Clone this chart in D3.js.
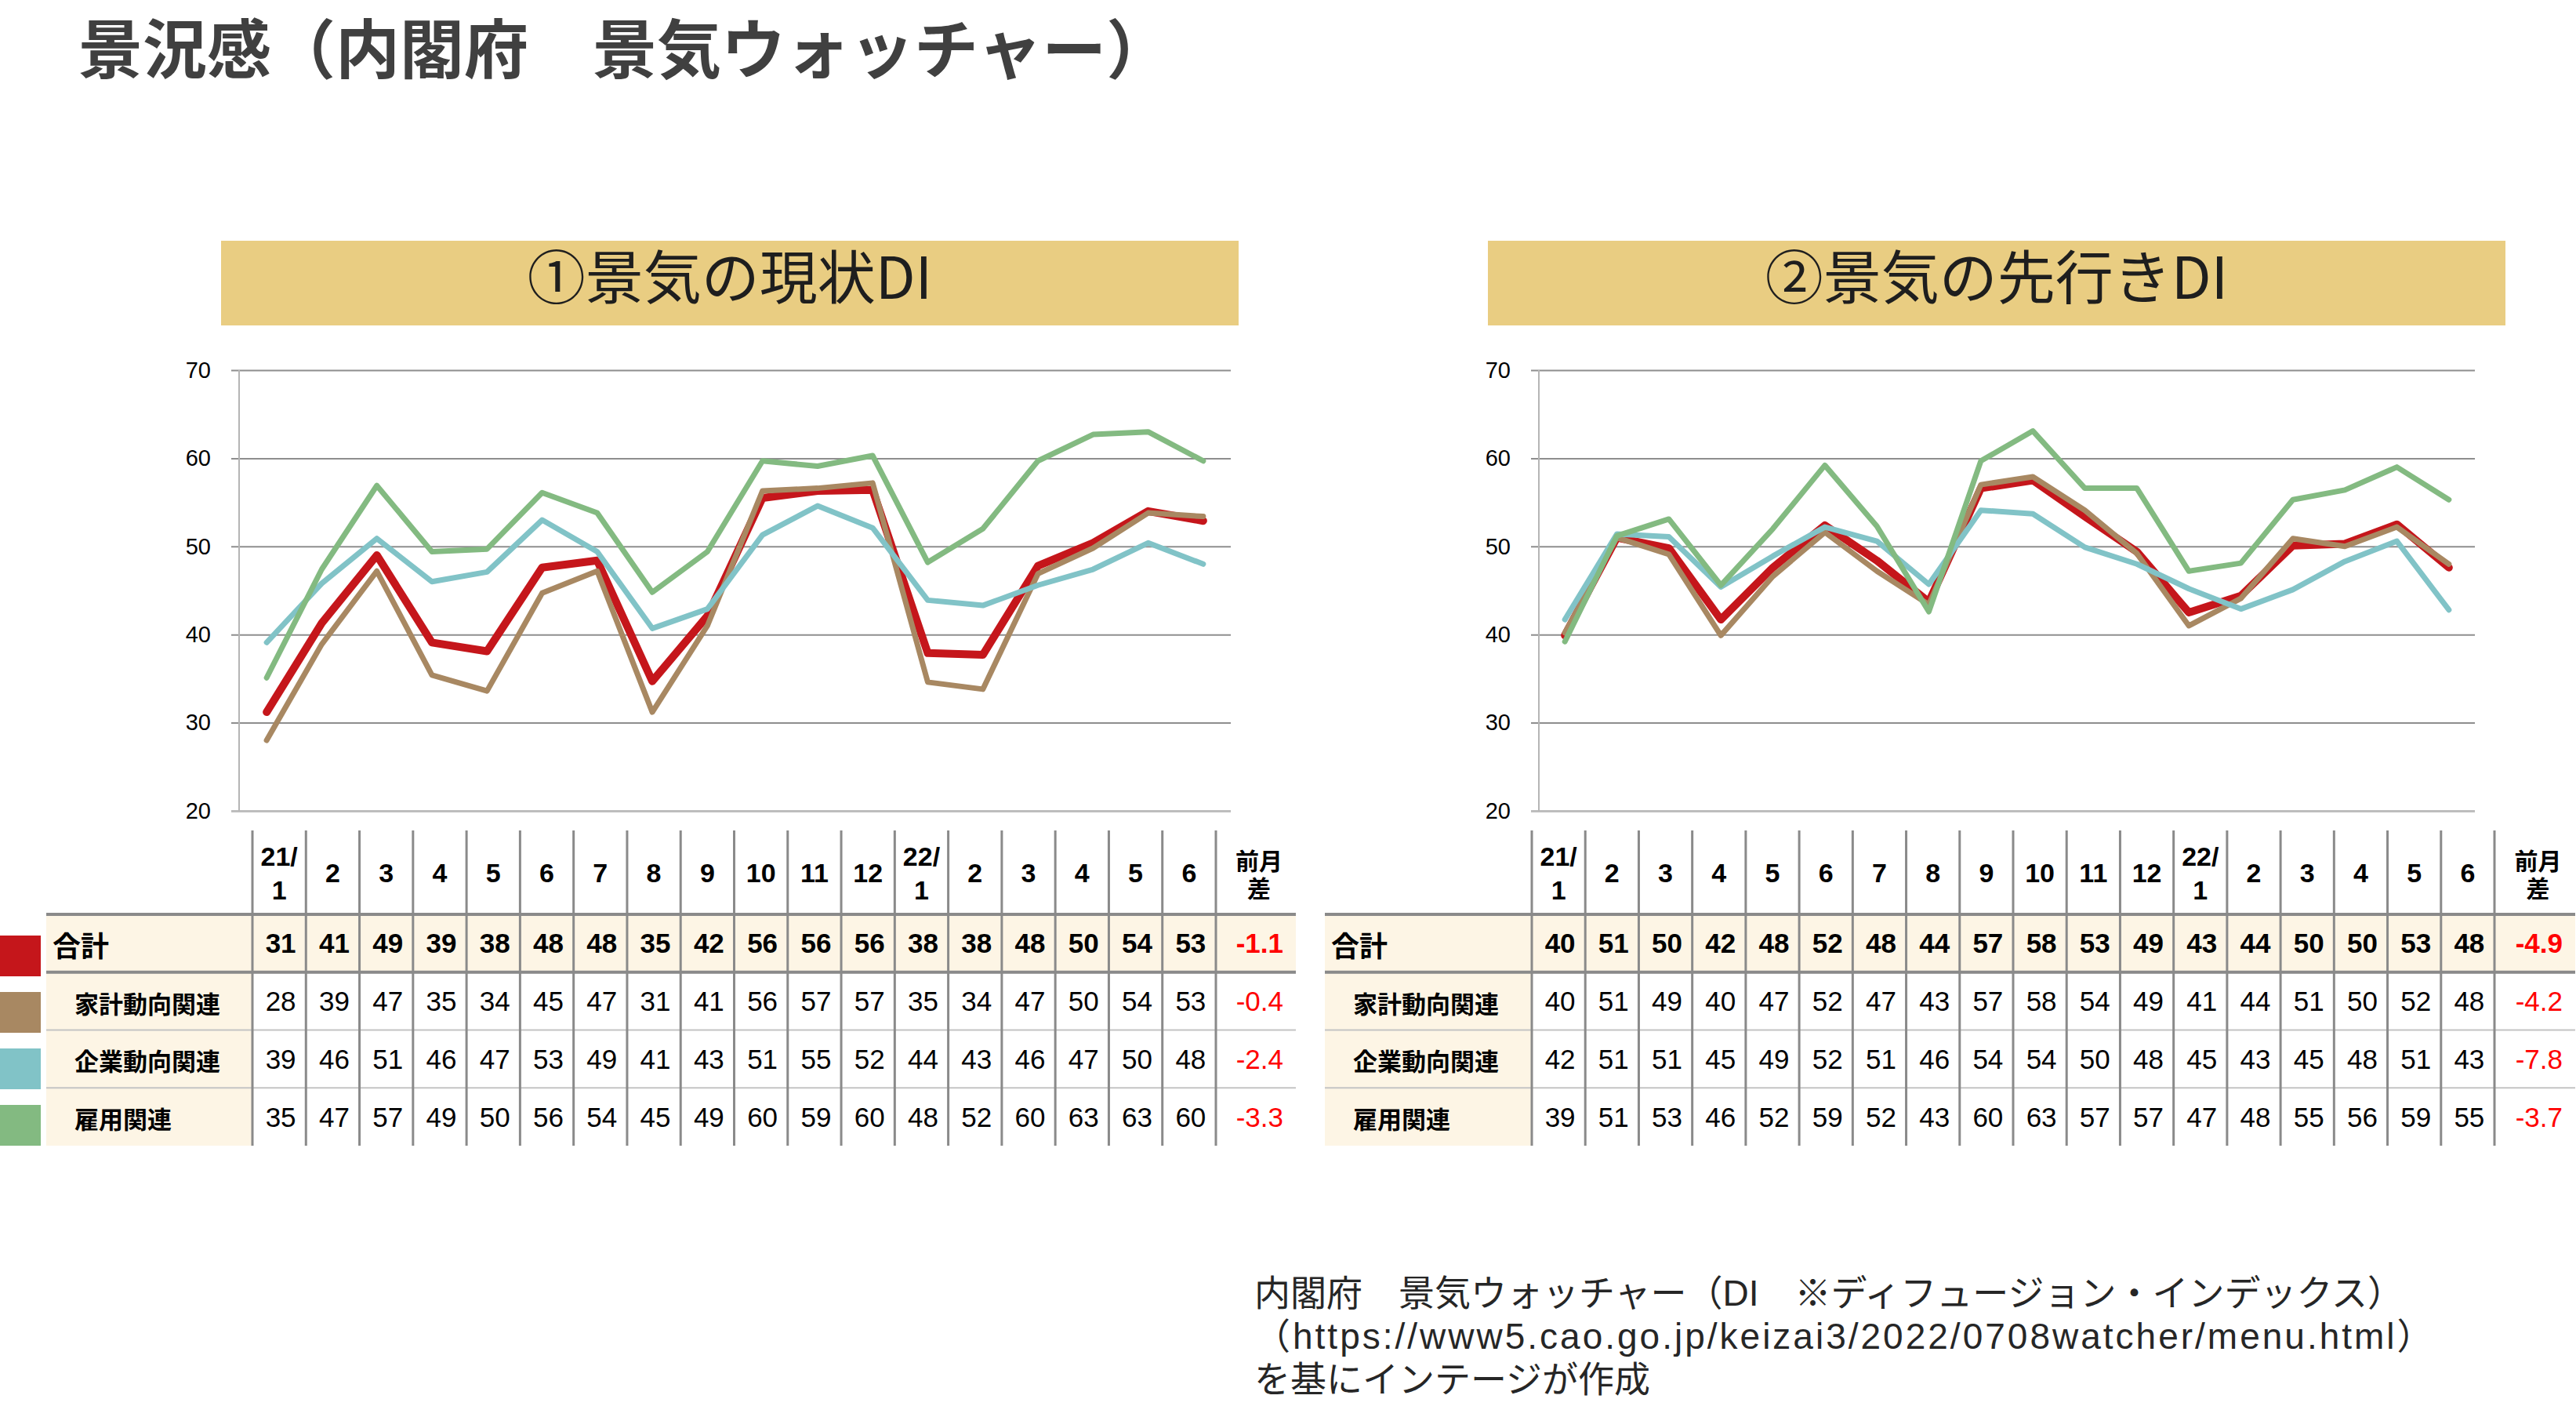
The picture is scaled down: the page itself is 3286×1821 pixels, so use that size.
<!DOCTYPE html>
<html>
<head>
<meta charset="utf-8">
<script src="https://cdn.jsdelivr.net/npm/d3@7"></script>
<style>
  body { margin: 0; background: #fff; }
  svg { display: block; }
</style>
</head>
<body>
<svg id="chart"></svg>
<script>
// months shown under the charts ("21/1" is printed on two lines)
var months = ["21/1", "2", "3", "4", "5", "6", "7", "8", "9", "10", "11", "12",
              "22/1", "2", "3", "4", "5", "6"];
var yTicks = [20, 30, 40, 50, 60, 70];
var seriesNames = ["合計", "家計動向関連", "企業動向関連", "雇用関連"];
var seriesColors = ["#C5161B", "#A88862", "#81C3C7", "#83BA81"];

// ① 現状判断DI
var nowTotal      = [31.2, 41.3, 49.0, 39.1, 38.1, 47.6, 48.4, 34.7, 42.1, 55.5, 56.3, 56.4, 37.9, 37.7, 47.8, 50.4, 54.0, 52.9];
var nowHousehold  = [28.0, 38.9, 47.2, 35.4, 33.6, 44.7, 47.2, 31.2, 41.0, 56.3, 56.6, 57.2, 34.6, 33.8, 46.9, 49.8, 53.8, 53.4];
var nowCorporate  = [39.1, 45.8, 50.9, 46.0, 47.1, 53.0, 49.4, 40.7, 42.9, 51.3, 54.6, 52.1, 43.9, 43.3, 45.6, 47.4, 50.4, 48.0];
var nowEmployment = [35.1, 47.4, 56.9, 49.4, 49.7, 56.1, 53.8, 44.8, 49.4, 59.7, 59.1, 60.3, 48.2, 52.0, 59.7, 62.7, 63.0, 59.7];

// ② 先行き判断DI
var outTotal      = [39.9, 51.0, 49.8, 41.7, 47.6, 52.4, 48.4, 43.7, 56.6, 57.5, 53.4, 49.4, 42.5, 44.4, 50.1, 50.3, 52.5, 47.6];
var outHousehold  = [40.2, 51.0, 49.1, 39.9, 46.6, 51.6, 47.2, 43.4, 57.0, 57.9, 54.1, 49.2, 41.0, 44.1, 50.9, 50.0, 52.2, 48.0];
var outCorporate  = [41.7, 51.4, 51.1, 45.4, 48.9, 52.2, 50.6, 45.7, 54.1, 53.7, 49.9, 48.0, 45.2, 42.9, 45.1, 48.3, 50.6, 42.8];
var outEmployment = [39.2, 51.2, 53.1, 45.6, 52.0, 59.2, 52.3, 42.6, 59.7, 63.1, 56.6, 56.6, 47.2, 48.1, 55.3, 56.4, 59.0, 55.3];

var W = 3286, H = 1821;
var JP = "'Noto Sans CJK JP', sans-serif";
var NUM = "'Liberation Sans', Arial, sans-serif";
// latin font first keeps the line box compact, kana/kanji fall back to Noto
var MIX = "'Liberation Sans', 'Noto Sans CJK JP', sans-serif";

var panels = [
  { title: "①景気の現状DI", data: [nowTotal, nowHousehold, nowCorporate, nowEmployment],
    band: [282, 1580], plot: [305, 1570], table: [59, 322, 1551, 1653], swatches: true },
  { title: "②景気の先行きDI", data: [outTotal, outHousehold, outCorporate, outEmployment],
    band: [1898, 3196], plot: [1963, 3157], table: [1690, 1954, 3182, 3285], swatches: false }
];

var svg = d3.select("#chart").attr("width", W).attr("height", H);

svg.append("text")
   .attr("x", 100)
   .attr("y", 93)
   .attr("font-family", MIX)
   .attr("font-weight", 700)
   .attr("font-size", 82)
   .attr("fill", "#404040")
   .text("景況感（内閣府　景気ウォッチャー）");

var y = d3.scaleLinear().domain([20, 70]).range([1034, 472]);

panels.forEach(drawPanel);

function drawPanel(p)
{
  var g = svg.append("g");

  /* title band */
  g.append("rect")
     .attr("x", p.band[0])
     .attr("y", 307)
     .attr("width", p.band[1] - p.band[0])
     .attr("height", 108)
     .attr("fill", "#E9CD82");

  g.append("text")
     .attr("x", (p.band[0] + p.band[1]) / 2)
     .attr("y", 381)
     .attr("text-anchor", "middle")
     .attr("font-family", JP)
     .attr("font-size", 74)
     .attr("fill", "#1e1e1e")
     .text(p.title);

  /* grid + y labels */
  var x = d3.scalePoint()
    .domain(d3.range(months.length))
    .range([p.plot[0], p.plot[1]])
    .padding(0.5);

  var yAxis = g.append("g")
     .attr("transform", "translate(" + (p.plot[0] - 10) + ",0)")
     .call(d3.axisLeft(y).tickValues(yTicks)
             .tickSize(-(p.plot[1] - p.plot[0] + 10))
             .tickPadding(26));
  yAxis.select(".domain").remove();
  yAxis.selectAll(".tick line")
     .attr("stroke", function(d) { return d === 20 ? "#bdbdbd" : "#8e8e8e"; })
     .attr("stroke-width", function(d) { return d === 20 ? 3 : 2; });
  yAxis.selectAll(".tick text")
     .attr("font-family", NUM)
     .attr("font-size", 29)
     .attr("fill", "#000");

  g.append("line")
     .attr("x1", p.plot[0]).attr("x2", p.plot[0])
     .attr("y1", y(70)).attr("y2", y(20))
     .attr("stroke", "#b5b5b5")
     .attr("stroke-width", 2);

  /* lines */
  var line = d3.line()
    .x(function(d, i) { return x(i); })
    .y(function(d) { return y(d); });

  p.data.forEach(function(s, k) {
    g.append("path")
       .datum(s)
       .attr("fill", "none")
       .attr("stroke", seriesColors[k])
       .attr("stroke-width", k === 0 ? 10 : 7)
       .attr("stroke-linejoin", "round")
       .attr("stroke-linecap", "round")
       .attr("d", line);
  });

  drawTable(g, p);
}


function drawTable(g, p)
{
  var left = p.table[0], labelEnd = p.table[1], colEnd = p.table[2], right = p.table[3];
  var top = 1059, headBottom = 1166, bottom = 1461;

  var col = d3.scaleBand().domain(d3.range(months.length)).range([labelEnd, colEnd]);
  var row = d3.scaleBand().domain(seriesNames).range([headBottom, bottom]);

  /* backgrounds */
  g.append("rect")
     .attr("x", left).attr("y", headBottom)
     .attr("width", labelEnd - left).attr("height", bottom - headBottom)
     .attr("fill", "#FDF5E5");
  g.append("rect")
     .attr("x", labelEnd).attr("y", headBottom)
     .attr("width", right - labelEnd).attr("height", row.bandwidth())
     .attr("fill", "#FDF5E5");

  /* header: months */
  months.forEach(function(m, i) {
    var cx = col(i) + col.bandwidth() / 2;
    var parts = m.indexOf("/") >= 0 ? [m.split("/")[0] + "/", m.split("/")[1]] : [m];
    var t = g.append("text")
       .attr("x", cx)
       .attr("y", parts.length === 1 ? 1125 : 1104)
       .attr("text-anchor", "middle")
       .attr("font-family", NUM)
       .attr("font-weight", 700)
       .attr("font-size", 34)
       .attr("fill", "#000");
    parts.forEach(function(s, j) {
      t.append("tspan").attr("x", cx).attr("dy", j ? 43 : 0).text(s);
    });
  });

  var head = g.append("text")
     .attr("y", 1109)
     .attr("text-anchor", "middle")
     .attr("font-family", MIX)
     .attr("font-weight", 700)
     .attr("font-size", 30)
     .attr("fill", "#000");
  ["前月", "差"].forEach(function(s, j) {
    head.append("tspan")
       .attr("x", (colEnd + right) / 2 + 4)
       .attr("dy", j ? 35 : 0)
       .text(s);
  });

  /* rows */
  p.data.forEach(function(s, k) {
    var name = seriesNames[k];
    var cy = row(name) + row.bandwidth() / 2;
    var bold = k === 0;

    g.append("text")
       .attr("x", left + (bold ? 8 : 36))
       .attr("y", bold ? cy + 17 : cy + 15)
       .attr("font-family", JP)
       .attr("font-weight", 700)
       .attr("font-size", bold ? 36 : 31)
       .attr("fill", "#000")
       .text(name);

    s.forEach(function(v, i) {
      g.append("text")
         .attr("x", col(i) + col.bandwidth() / 2 + 2)
         .attr("y", cy + 12.5)
         .attr("text-anchor", "middle")
         .attr("font-family", NUM)
         .attr("font-weight", bold ? 700 : 400)
         .attr("font-size", 35)
         .attr("fill", "#000")
         .text(Math.round(v));
    });

    var diff = s[s.length - 1] - s[s.length - 2];
    g.append("text")
       .attr("x", right - 16)
       .attr("y", cy + 12.5)
       .attr("text-anchor", "end")
       .attr("font-family", NUM)
       .attr("font-weight", bold ? 700 : 400)
       .attr("font-size", 35)
       .attr("fill", "#FF0000")
       .text(diff.toFixed(1));

    if (p.swatches)
    {
      g.append("rect")
         .attr("x", 0)
         .attr("y", 1193 + k * 72)
         .attr("width", 52)
         .attr("height", 52)
         .attr("fill", seriesColors[k]);
    }
  });

  /* rules */
  [row("家計動向関連"), row("企業動向関連"), row("雇用関連")].forEach(function(yy, j) {
    g.append("line")
       .attr("x1", left).attr("x2", right)
       .attr("y1", yy).attr("y2", yy)
       .attr("stroke", j === 0 ? "#8a8a8a" : "#c4c4c4")
       .attr("stroke-width", j === 0 ? 4 : 2);
  });
  g.append("line")
     .attr("x1", left).attr("x2", right)
     .attr("y1", headBottom).attr("y2", headBottom)
     .attr("stroke", "#8a8a8a")
     .attr("stroke-width", 4);

  d3.range(months.length + 1).forEach(function(i) {
    var xx = i < months.length ? col(i) : colEnd;
    g.append("line")
       .attr("x1", xx).attr("x2", xx)
       .attr("y1", top).attr("y2", bottom)
       .attr("stroke", "#8a8a8a")
       .attr("stroke-width", 3);
  });
}

/* source note */
var notes = ["内閣府　景気ウォッチャー（DI　※ディフュージョン・インデックス）",
             "（https://www5.cao.go.jp/keizai3/2022/0708watcher/menu.html）",
             "を基にインテージが作成"];
var note = svg.append("text")
   .attr("y", 1665)
   .attr("font-family", MIX)
   .attr("font-size", 46)
   .attr("fill", "#262626");
notes.forEach(function(t, i) {
  note.append("tspan")
     .attr("x", 1600)
     .attr("dy", i ? 55 : 0)
     .attr("letter-spacing", i === 1 ? 3 : 0)
     .text(t);
});
</script>
</body>
</html>
